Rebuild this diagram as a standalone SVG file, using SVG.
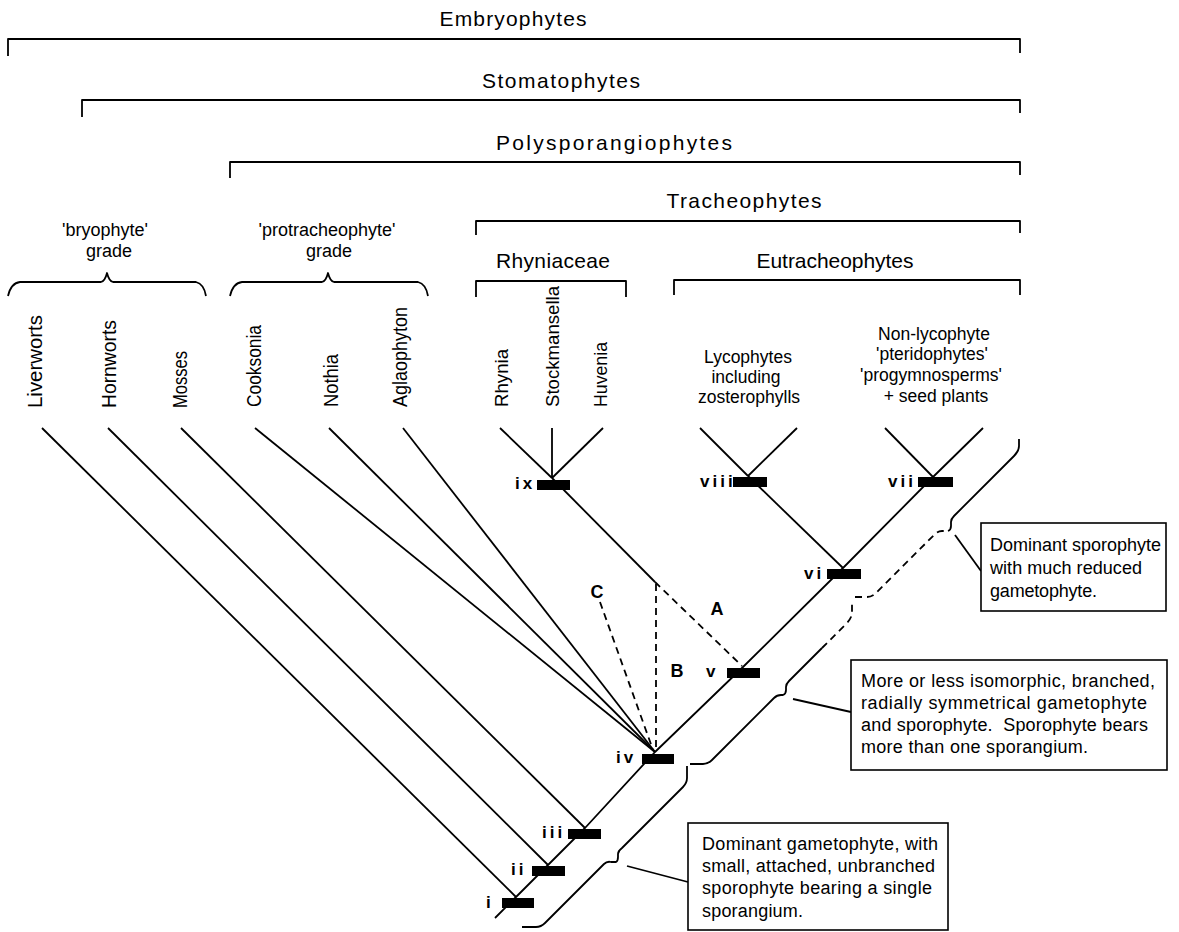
<svg xmlns="http://www.w3.org/2000/svg" width="1179" height="932" viewBox="0 0 1179 932">
<style>
text { font-family: "Liberation Sans", Arial, Helvetica, sans-serif; fill: #000; }
.hdr { font-size: 21px; text-anchor: middle; }
.grp { font-size: 18px; text-anchor: middle; }
.sub { font-size: 17.5px; text-anchor: middle; }
.tax { font-size: 20px; }
.tax2 { font-size: 19px; }
.box { font-size: 18px; }
.nl { font-size: 17px; font-weight: bold; letter-spacing: 3px; }
.abc { font-size: 18px; font-weight: bold; text-anchor: middle; }
.ln { fill: none; stroke: #000; stroke-width: 1.8; stroke-linejoin: round; }
.dash { fill: none; stroke: #000; stroke-width: 1.8; stroke-dasharray: 7 5; }
.bar { fill: #000; }
.frame { fill: #fff; stroke: #000; stroke-width: 1.6; }
</style>
<rect width="1179" height="932" fill="#fff"/>

<!-- clade brackets -->
<g id="embryophytes">
  <path class="ln" d="M8,56 V39 H1020 V53"/>
  <text class="hdr" x="513" y="26" textLength="147">Embryophytes</text>
</g>
<g id="stomatophytes">
  <path class="ln" d="M82,117 V100 H1020 V113"/>
  <text class="hdr" x="561" y="88" textLength="158">Stomatophytes</text>
</g>
<g id="polysporangiophytes">
  <path class="ln" d="M230,178 V162 H1020 V175"/>
  <text class="hdr" x="614" y="150" textLength="236">Polysporangiophytes</text>
</g>
<g id="tracheophytes">
  <path class="ln" d="M476,235 V221 H1020 V233"/>
  <text class="hdr" x="744" y="208" textLength="155">Tracheophytes</text>
</g>
<g id="rhyniaceae">
  <path class="ln" d="M476,297 V281 H626 V297"/>
  <text class="hdr" x="553" y="268" textLength="114">Rhyniaceae</text>
</g>
<g id="eutracheophytes">
  <path class="ln" d="M674,295 V280 H1020 V295"/>
  <text class="hdr" x="835" y="268" textLength="157">Eutracheophytes</text>
</g>

<!-- grades -->
<g id="bryophyte-grade">
  <text class="grp" x="105" y="236">'bryophyte'</text>
  <text class="grp" x="109" y="257">grade</text>
  <path class="ln" d="M8,296 Q11,283 20,282 L101,282 Q105,281 107,273 Q109,281 113,282 L196,282 Q204,284 206,296"/>
</g>
<g id="protracheophyte-grade">
  <text class="grp" x="327" y="236">'protracheophyte'</text>
  <text class="grp" x="329" y="257">grade</text>
  <path class="ln" d="M230,296 Q233,283 242,282 L322,282 Q326,281 328,273 Q330,281 334,282 L418,282 Q426,284 428,296"/>
</g>

<!-- terminal taxa -->
<g id="liverworts"><text class="tax" transform="translate(42,408) rotate(-90)" textLength="93" lengthAdjust="spacingAndGlyphs">Liverworts</text></g>
<g id="hornworts"><text class="tax" transform="translate(116,408) rotate(-90)" textLength="88" lengthAdjust="spacingAndGlyphs">Hornworts</text></g>
<g id="mosses"><text class="tax" transform="translate(187,408) rotate(-90)" textLength="57" lengthAdjust="spacingAndGlyphs">Mosses</text></g>
<g id="cooksonia"><text class="tax" transform="translate(261,407) rotate(-90)" textLength="82" lengthAdjust="spacingAndGlyphs">Cooksonia</text></g>
<g id="nothia"><text class="tax" transform="translate(338,407) rotate(-90)" textLength="53" lengthAdjust="spacingAndGlyphs">Nothia</text></g>
<g id="aglaophyton"><text class="tax" transform="translate(407,407) rotate(-90)" textLength="100" lengthAdjust="spacingAndGlyphs">Aglaophyton</text></g>
<g id="rhynia"><text class="tax2" transform="translate(508,407) rotate(-90)" textLength="58" lengthAdjust="spacingAndGlyphs">Rhynia</text></g>
<g id="stockmansella"><text class="tax2" transform="translate(559,407) rotate(-90)" textLength="121" lengthAdjust="spacingAndGlyphs">Stockmansella</text></g>
<g id="huvenia"><text class="tax2" transform="translate(607,407) rotate(-90)" textLength="65" lengthAdjust="spacingAndGlyphs">Huvenia</text></g>
<g id="lycophytes">
  <text class="sub" x="748" y="363">Lycophytes</text>
  <text class="sub" x="746" y="383">including</text>
  <text class="sub" x="749" y="403">zosterophylls</text>
</g>
<g id="non-lycophytes">
  <text class="sub" x="934" y="340">Non-lycophyte</text>
  <text class="sub" x="932" y="360">'pteridophytes'</text>
  <text class="sub" x="931" y="381">'progymnosperms'</text>
  <text class="sub" x="936" y="402">+ seed plants</text>
</g>

<!-- connectors -->
<g id="connectors">
  <polyline class="ln" points="495,918 516,897 548,865 585,828 655,752 743,667 843,568 933,477 983,428"/>
  <line class="ln" x1="42" y1="428" x2="516" y2="897"/>
  <line class="ln" x1="108" y1="428" x2="548" y2="865"/>
  <line class="ln" x1="181" y1="428" x2="585" y2="828"/>
  <line class="ln" x1="255" y1="428" x2="655" y2="752"/>
  <line class="ln" x1="329" y1="428" x2="655" y2="752"/>
  <line class="ln" x1="403" y1="428" x2="655" y2="752"/>
  <line class="ln" x1="500" y1="428" x2="552" y2="478"/>
  <line class="ln" x1="552" y1="428" x2="552" y2="478"/>
  <line class="ln" x1="603" y1="428" x2="552" y2="478"/>
  <line class="ln" x1="552" y1="478" x2="655" y2="582"/>
  <line class="dash" x1="655" y1="582" x2="742" y2="666"/>
  <line class="dash" x1="656" y1="584" x2="656" y2="752"/>
  <line class="dash" x1="600" y1="602" x2="653" y2="750"/>
  <line class="ln" x1="700" y1="428" x2="748" y2="476"/>
  <line class="ln" x1="797" y1="428" x2="748" y2="476"/>
  <line class="ln" x1="748" y1="476" x2="843" y2="568"/>
  <line class="ln" x1="885" y1="428" x2="933" y2="477"/>
  <text class="abc" x="717" y="615">A</text>
  <text class="abc" x="677" y="677">B</text>
  <text class="abc" x="597" y="598">C</text>
</g>

<!-- internal nodes (synapomorphy bars) -->
<g id="node-i"><rect class="bar" x="502" y="898" width="32" height="10"/><text class="nl" x="486" y="908">i</text></g>
<g id="node-ii"><rect class="bar" x="532" y="866" width="33" height="10"/><text class="nl" x="511" y="875">ii</text></g>
<g id="node-iii"><rect class="bar" x="568" y="829" width="33" height="10"/><text class="nl" x="542" y="838">iii</text></g>
<g id="node-iv"><rect class="bar" x="642" y="754" width="32" height="10"/><text class="nl" x="616" y="763">iv</text></g>
<g id="node-v"><rect class="bar" x="727" y="668" width="33" height="10"/><text class="nl" x="706" y="677">v</text></g>
<g id="node-vi"><rect class="bar" x="827" y="569" width="34" height="10"/><text class="nl" x="804" y="579">vi</text></g>
<g id="node-vii"><rect class="bar" x="918" y="477" width="35" height="10"/><text class="nl" x="888" y="487">vii</text></g>
<g id="node-viii"><rect class="bar" x="733" y="477" width="34" height="10"/><text class="nl" x="700" y="487">viii</text></g>
<g id="node-ix"><rect class="bar" x="537" y="480" width="33" height="10"/><text class="nl" x="515" y="489">ix</text></g>

<!-- life-cycle braces -->
<g id="brace-gametophyte">
  <path class="ln" d="M522,927 L536,927 Q541,927 545,923 L604,864 Q607,861 611,862 L616,862 Q618,861 618,857 L618,854 Q618,851 622,848 L683,787 Q687,783 687,778 L687,766"/>
  <line class="ln" x1="627" y1="866" x2="688" y2="882"/>
</g>
<g id="brace-isomorphic">
  <path class="ln" d="M690,764 L703,764 Q708,764 712,760 L774,698 Q777,695 781,695 L783,695 Q786,694 786,690 L786,687 Q786,684 789,681 L822,648"/>
  <path class="dash" d="M822,648 L846,624 Q851,619 852,614 L852,601"/>
  <line class="ln" x1="793" y1="699" x2="851" y2="712"/>
</g>
<g id="brace-sporophyte">
  <path class="dash" d="M855,597 L867,597 Q872,597 876,593 L935,534 Q938,531 942,531 L948,531"/>
  <path class="ln" d="M948,531 Q951,530 951,526 L951,522 Q951,519 954,516 L1014,456 Q1019,451 1019,446 L1019,439"/>
  <line class="ln" x1="955" y1="535" x2="981" y2="571"/>
</g>

<!-- annotation boxes -->
<g id="box-sporophyte">
  <rect class="frame" x="981" y="523" width="185" height="88"/>
  <text class="box" x="990" y="551" textLength="171">Dominant sporophyte</text>
  <text class="box" x="990" y="574" textLength="152">with much reduced</text>
  <text class="box" x="990" y="597" textLength="107">gametophyte.</text>
</g>
<g id="box-isomorphic">
  <rect class="frame" x="851" y="660" width="316" height="110"/>
  <text class="box" x="861" y="687" textLength="294">More or less isomorphic, branched,</text>
  <text class="box" x="861" y="709" textLength="286">radially symmetrical gametophyte</text>
  <text class="box" x="861" y="731" textLength="287">and sporophyte.&#160; Sporophyte bears</text>
  <text class="box" x="861" y="753" textLength="227">more than one sporangium.</text>
</g>
<g id="box-gametophyte">
  <rect class="frame" x="688" y="823" width="260" height="107"/>
  <text class="box" x="702" y="850" textLength="236">Dominant gametophyte, with</text>
  <text class="box" x="702" y="872" textLength="233">small, attached, unbranched</text>
  <text class="box" x="702" y="894" textLength="230">sporophyte bearing a single</text>
  <text class="box" x="702" y="917" textLength="101">sporangium.</text>
</g>
</svg>
